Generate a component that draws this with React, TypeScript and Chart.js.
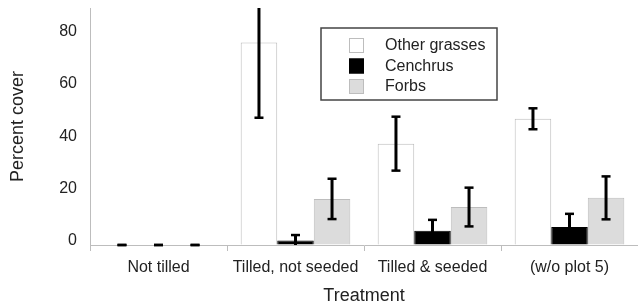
import { useEffect, useRef } from "react";
import { Chart, registerables } from "chart.js";

Chart.register(...registerables);

const categories = ["Not tilled", "Tilled, not seeded", "Tilled & seeded", "(w/o plot 5)"];
const seriesNames = ["Other grasses", "Cenchrus", "Forbs"];
const otherGrasses = [0, 77.3, 38.7, 48.2];
const otherGrassesErr = [0, 28.7, 10.3, 4];
const cenchrus = [0, 1.7, 5.4, 6.9];
const cenchrusErr = [0, 2.1, 4.2, 5];
const forbs = [0, 17.6, 14.5, 18];
const forbsErr = [0, 7.7, 7.4, 8.2];
const yTicks = [0, 20, 40, 60, 80];

const FONT = "'Liberation Sans', Arial, Helvetica, sans-serif";
const TEXT = "#222";
const AXIS = "#bdbdbd";

const fills = ["#ffffff", "#000000", "#dcdcdc"];
const borders = ["#bdbdbd", "#000000", "#bdbdbd"];
const errors = [otherGrassesErr, cenchrusErr, forbsErr];

const errorBarsPlugin = {
  id: "errorBars",
  afterDatasetsDraw(chart: any) {
    const { ctx, chartArea, scales } = chart;
    const y = scales.y;
    ctx.save();
    ctx.beginPath();
    ctx.rect(chartArea.left, chartArea.top, chartArea.right - chartArea.left, chartArea.bottom - chartArea.top + 3);
    ctx.clip();
    ctx.strokeStyle = "#000";
    ctx.lineCap = "butt";
    const capHalf = 4.5;
    chart.data.datasets.forEach((ds: any, di: number) => {
      const meta = chart.getDatasetMeta(di);
      const errs = errors[di];
      meta.data.forEach((bar: any, i: number) => {
        const v = ds.data[i];
        const e = errs[i];
        const hiVal = v + e;
        const loRaw = v - e;
        const loVal = Math.max(loRaw, 0);
        const x = bar.x;
        const yHi = y.getPixelForValue(hiVal);
        const yLo = y.getPixelForValue(loVal);
        ctx.lineWidth = 3;
        ctx.beginPath();
        ctx.moveTo(x, yLo);
        ctx.lineTo(x, yHi);
        ctx.stroke();
        ctx.lineWidth = 2.5;
        if (hiVal <= y.max) {
          ctx.beginPath();
          ctx.moveTo(x - capHalf, yHi);
          ctx.lineTo(x + capHalf, yHi);
          ctx.stroke();
        }
        if (loRaw >= 0) {
          ctx.beginPath();
          ctx.moveTo(x - capHalf, yLo);
          ctx.lineTo(x + capHalf, yLo);
          ctx.stroke();
        }
      });
    });
    ctx.restore();
  },
};

const boxLegendPlugin = {
  id: "boxLegend",
  afterDraw(chart: any) {
    const { ctx } = chart;
    const left = 321;
    const top = 28;
    const width = 176;
    const height = 72;
    ctx.save();
    ctx.fillStyle = "#fff";
    ctx.fillRect(left, top, width, height);
    ctx.strokeStyle = "#444";
    ctx.lineWidth = 1.5;
    ctx.strokeRect(left, top, width, height);
    ctx.font = `16px ${FONT}`;
    ctx.textBaseline = "middle";
    ctx.textAlign = "left";
    chart.data.datasets.forEach((ds: any, i: number) => {
      const cy = top + 17.5 + i * 20.5;
      ctx.fillStyle = ds.backgroundColor;
      ctx.fillRect(349, cy - 7.5, 15, 15);
      ctx.strokeStyle = ds.borderColor;
      ctx.lineWidth = 1;
      ctx.strokeRect(349.5, cy - 7, 14, 14);
      ctx.fillStyle = TEXT;
      ctx.fillText(ds.label, 385, cy + 0.5);
    });
    ctx.restore();
  },
};

export default function App() {
  const ref = useRef<HTMLCanvasElement | null>(null);

  useEffect(() => {
    if (!ref.current) return;
    const values = [otherGrasses, cenchrus, forbs];
    const chart = new Chart(ref.current, {
      type: "bar",
      data: {
        labels: categories,
        datasets: seriesNames.map((name, i) => ({
          label: name,
          data: values[i],
          backgroundColor: fills[i],
          borderColor: borders[i],
          borderWidth: 1,
          categoryPercentage: 0.8,
          barPercentage: 1.0,
        })),
      },
      options: {
        animation: false,
        responsive: false,
        devicePixelRatio: 1,
        layout: { padding: { top: 8, left: 0, right: 0, bottom: 0 } },
        plugins: {
          legend: { display: false },
          tooltip: { enabled: false },
        },
        scales: {
          x: {
            offset: true,
            grid: {
              display: true,
              drawOnChartArea: false,
              drawTicks: true,
              tickLength: 6,
              color: AXIS,
              offset: true,
            },
            border: { display: true, color: AXIS, width: 1 },
            ticks: {
              color: TEXT,
              font: { family: FONT, size: 16 },
              padding: 7,
              maxRotation: 0,
              autoSkip: false,
            },
            title: {
              display: true,
              text: "Treatment",
              color: TEXT,
              font: { family: FONT, size: 18 },
              padding: { top: 0, bottom: -2 },
            },
            afterFit: (s: any) => {
              s.height = 60;
              s.paddingLeft = 0;
              s.paddingRight = 0;
            },
          },
          y: {
            min: 0,
            max: 90.5,
            afterBuildTicks: (s: any) => {
              s.ticks = yTicks.map((v) => ({ value: v }));
            },
            grid: { display: true, drawOnChartArea: false, drawTicks: false, color: AXIS },
            border: { display: true, color: AXIS, width: 1 },
            ticks: {
              color: TEXT,
              font: { family: FONT, size: 16 },
              padding: 13,
              labelOffset: -4,
            },
            title: {
              display: true,
              text: "Percent cover",
              color: TEXT,
              font: { family: FONT, size: 18 },
              padding: { top: 7, bottom: 0 },
            },
            afterFit: (s: any) => {
              s.width = 90;
              s.paddingTop = 0;
              s.paddingBottom = 0;
            },
          },
        },
      },
      plugins: [errorBarsPlugin, boxLegendPlugin],
    });
    return () => chart.destroy();
  }, []);

  return (
    <div style={{ position: "fixed", left: 0, top: 0, width: 638, height: 305, background: "#fff" }}>
      <canvas ref={ref} width={638} height={305} style={{ display: "block", width: 638, height: 305 }} />
    </div>
  );
}
